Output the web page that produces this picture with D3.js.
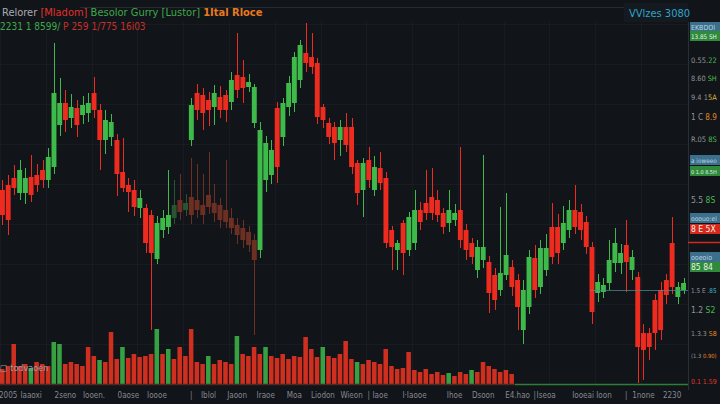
<!DOCTYPE html>
<html>
<head>
<meta charset="utf-8">
<script src="https://cdn.jsdelivr.net/npm/d3@7"></script>
<style>
  html, body { margin: 0; padding: 0; background: #111419; }
  svg { display: block; }
  text { font-family: "Liberation Sans Narrow", "DejaVu Sans Condensed", Roboto, sans-serif; }
</style>
</head>
<body>
<div id="chart"></div>
<script>
// candle values, one slot per trading period (null = no candle)
var opens = [197,199.5,203,195.5,195.5,203.5,204.5,207,202,208.5,229.5,240.5,233,238,234.5,235.5,245.5,237,222,223.5,
  222,206,199.5,197,188,188,184.5,162.5,177,178.5,null,null,null,222,245.5,244.5,242,238.5,243.5,244.5,
  241,254.5,253.5,248.5,230.5,167,202,204.5,238,223.5,238.5,240.5,252,265.5,263.5,260.5,238.5,230.5,228.5,222,
  228.5,228.5,210.5,197,212,197,208,203,177,167,180.5,167,170.5,187,190.5,193.5,192,185.5,180.5,182,
  187,177,170.5,157,162,161,154.5,147,154.5,158.5,152,127,138.5,163,148.5,157,178.5,178.5,170.5,177,
  187,186,181,168.5,145.5,146,150.5,160.5,160.5,169.5,157,153.5,125.5,125.5,142,147,152,170.5,143.5,147];
var highs = [202,204.5,209.5,212,208,214.5,210,212,218,270.5,253,247,245,242,244,245.5,253.5,240,237,235,
  225,223,203,202,197,190,187,184,187,207,null,null,null,243,250,248,246,249.5,249,247,
  256,275.5,262,255,250,231,224,222,241,243,254,266,272,280.5,275.5,263,240,233,231,232,
  235.5,233,212,213,218.5,214,216,206,179,172,182,186,197,191,207,208,197,188,197,190,
  218.5,180,173,172,214.5,164,158,188.5,195.5,162,155,152,167,169.5,172,175,190.5,185,189,192,
  199.5,190,184,171,155,153,172,178,170,182,167,156,130,128,145,151,155,183.5,151,153];
var lows = [179.5,174.5,194.5,192,190,191,196,198,198,205,224,226,228,223.5,230,231,233,207,215,219,
  194,196,186,184,183,165.5,127,160,173,175,null,null,null,219,232,227,229,229.5,233,231,
  237,243,240.5,246,228,163,196,200,200.5,219,234,236,248,256,255,230,228,220,212,214,
  216,205,189.5,183.5,198,194,197,168,157,157,154.5,164,167,177,182,182,181,175,176,179,
  168,162,160,153,158,135.5,137,144,152,144,127,120,135,143,145,154,160,160,167,173,
  175,172,165,130,141,143,147,156,155,146,152,100.5,102,112,117,122,140,145,140,145];
var closes = [184.5,182,198,207,203,194.5,199.5,202,213.5,245.5,240.5,232,238.5,229.5,239.5,240.5,237,222,232,231,
  205,198,196,188.5,193,170.5,165.5,180.5,183,184.5,null,null,null,239.5,237,235.5,237,245.5,237,237,
  252,247,248,251,248.5,227,220.5,217,208.5,240.5,250.5,263.5,269.5,260.5,258.5,233.5,232,223.5,220.5,228.5,
  219.5,208.5,195.5,210.5,202,208.5,200.5,170.5,168.5,170.5,165.5,183.5,187,181,185.5,185.5,184.5,178.5,187,185.5,
  172,167,163.5,168.5,168.5,145.5,142,155.5,164.5,148.5,138.5,147,163.5,147,168,168,163.5,165.5,180.5,187,
  178.5,177,168.5,136,151,149.5,162,170.5,165.5,161,163.5,118.5,117,118.5,125.5,127,144.5,148.5,148.5,150.5];

// faded second series behind the main one
var ghostSlots = [30,31,32,33,34,35,36,37,38,39,40,41,42,43,44];
var ghostOpens = [183,192,187,193.5,192,189.5,194.5,190.5,189.5,187,183,179.5,178,176,172];
var ghostHighs = [202,205,195,213,210,205,216,200,193,212,188,183,182,179,175];
var ghostLows = [180,182,184,180,183,180,185,181,178,178,175,170,168,166,124.5];
var ghostCloses = [189.5,186,190.5,184.5,187,184.5,188.5,185.5,182,181,178,174.5,172,169.5,162];

// volume per slot (first 90 slots), 1 = buy bar
var volumes = [15,18,40,18,20,16,22,20,18,42,40,20,22,20,18,37,28,24,22,52,
  25,37,26,30,27,28,30,55,30,35,25,37,28,55,22,20,28,20,24,22,
  20,48,30,28,37,30,37,28,26,30,25,28,27,47,35,27,37,28,26,30,
  43,25,22,20,24,22,20,35,18,15,16,32,14,12,15,10,12,9,11,8,
  12,10,14,12,22,18,15,12,14,10];
var volUp = [0,0,0,0,0,1,0,0,0,1,1,0,0,0,0,0,0,1,0,0,
  0,1,0,0,0,0,0,1,0,1,0,0,0,0,0,0,1,0,0,0,
  0,1,0,0,0,0,1,0,0,0,0,0,0,0,0,0,1,0,0,0,
  0,0,1,0,0,0,0,0,0,0,0,0,0,0,0,0,0,0,1,0,
  0,0,1,0,0,0,0,0,0,0];

// right price scale labels
var axisPrices = [278.5,274,262,253,243.5,233.5,222.5,212,206.5,192,183,177.5,163.5,158.5,147,137,125.5,114.5,101.5];
var axisKinds = ["info","up","text","text","text","text","text","info","up","text","info","down","info","up","text","text","text","text","text"];
var axisHead = ["EKBDOI","13.85 SH","0.55.","8.60 ","9.4 1","1 C ","R.05 ","a ioweeo","0 1.0 8.5H","5.5 ","ooouo:ei","8 E 5X","ooeoio","85 84","1.5 E ",
  "1.2 ","1.3.3 ","(1.3 ",""];
var axisTail = ["","","22","SH","5A","8.9","8S","","","8S","","","","",".85","S2","S8","0.90)","0.1 1.59"];
var axisTone = ["","","g","g","y","o","g","","","g","","","","","c","g","o","o","r"];

// bottom time labels
var timeSlots = [1,5,11,16,22,27,33,36,41,46,51,56,61,64,66,72,79,84,90,93,95,103,109,112,117];
var timeLabels = ["2005","Iaaoxi","2seno","Iooen.","0aose","Ioooe","|","Iblol","Jaoon","Iraoe","Moa","Liodon","Wieon","|",
  "Iaoe","I·Iaooe","Ihoe","Dsoon","E4.hao","|","Iseoa","Iooeai Ioon","|","1none","2230"];

var width = 720, height = 404;
var plotRight = 688;

var svg = d3.select("#chart").append("svg")
  .attr("width", width)
  .attr("height", height);

svg.append("rect").attr("width", width).attr("height", height).attr("fill", "#111419");

var x = d3.scaleBand().domain(d3.range(opens.length)).range([0, 686]).paddingInner(0.14);
var y = d3.scaleLinear().domain([100, 287]).range([384, 10]);
var yVol = d3.scaleLinear().domain([0, 60]).range([384, 324]);
var cx = function(i) { return x(i) + x.bandwidth() / 2; };

// faint grid
var grid = svg.append("g").attr("stroke", "#181c22").attr("stroke-width", 1);
grid.selectAll("line.v")
  .data(d3.range(0, opens.length, 8))
  .enter().append("line")
  .attr("x1", function(d) { return Math.round(x(d)) + 0.5; })
  .attr("x2", function(d) { return Math.round(x(d)) + 0.5; })
  .attr("y1", 22).attr("y2", 384);
grid.selectAll("line.h")
  .data(y.ticks(9))
  .enter().append("line")
  .attr("x1", 0).attr("x2", plotRight)
  .attr("y1", function(d) { return Math.round(y(d)) + 0.5; })
  .attr("y2", function(d) { return Math.round(y(d)) + 0.5; });

// top rule
svg.append("line").attr("x1", 80).attr("x2", 626).attr("y1", 7.5).attr("y2", 7.5)
  .attr("stroke", "#262a31");

// volume bars
svg.append("g").selectAll("rect")
  .data(volumes)
  .enter().append("rect")
  .attr("x", function(d, i) { return x(i); })
  .attr("y", function(d) { return yVol(d); })
  .attr("width", x.bandwidth() * 0.92)
  .attr("height", function(d) { return 384 - yVol(d); })
  .attr("fill", function(d, i) { return volUp[i] ? "#3aae45" : "#e0321f"; })
  .attr("opacity", 0.92);

// volume baseline
svg.append("line").attr("x1", 0).attr("x2", 515).attr("y1", 384.5).attr("y2", 384.5)
  .attr("stroke", "#4a2a22").attr("stroke-width", 1.5);
svg.append("line").attr("x1", 515).attr("x2", plotRight).attr("y1", 384.5).attr("y2", 384.5)
  .attr("stroke", "#2f7e38").attr("stroke-width", 1.5);

function drawCandles(rows, upColor, downColor, opacity) {
  var g = svg.append("g").attr("opacity", opacity);
  var c = g.selectAll("g").data(rows).enter().append("g");
  c.append("line")
    .attr("x1", function(d) { return Math.round(cx(d.i)) + 0.5; })
    .attr("x2", function(d) { return Math.round(cx(d.i)) + 0.5; })
    .attr("y1", function(d) { return y(d.h); })
    .attr("y2", function(d) { return y(d.l); })
    .attr("stroke", function(d) { return d.c >= d.o ? upColor : downColor; })
    .attr("stroke-width", 1);
  c.append("rect")
    .attr("x", function(d) { return x(d.i); })
    .attr("y", function(d) { return y(Math.max(d.o, d.c)); })
    .attr("width", x.bandwidth())
    .attr("height", function(d) { return Math.max(1.5, Math.abs(y(d.o) - y(d.c))); })
    .attr("fill", function(d) { return d.c >= d.o ? upColor : downColor; });
}

var ghostRows = ghostSlots.map(function(s, k) {
  return { i: s, o: ghostOpens[k], h: ghostHighs[k], l: ghostLows[k], c: ghostCloses[k] };
});
drawCandles(ghostRows, "#3f9446", "#c84a2c", 0.5);

var rows = d3.range(opens.length).map(function(i) {
  return { i: i, o: opens[i], h: highs[i], l: lows[i], c: closes[i] };
}).filter(function(d) { return d.o != null; });
drawCandles(rows, "#3dba4a", "#ee2b1f", 1);

// last price line
svg.append("line").attr("x1", 590).attr("x2", plotRight)
  .attr("y1", Math.round(y(147)) + 0.5).attr("y2", Math.round(y(147)) + 0.5)
  .attr("stroke", "#4f8f9c").attr("stroke-width", 1).attr("opacity", 0.7);

// right axis
svg.append("rect").attr("x", plotRight).attr("y", 0).attr("width", width - plotRight).attr("height", height)
  .attr("fill", "#111419");
svg.append("line").attr("x1", plotRight + 0.5).attr("x2", plotRight + 0.5).attr("y1", 22).attr("y2", 390)
  .attr("stroke", "#2a2f36");
svg.append("line").attr("x1", plotRight).attr("x2", width)
  .attr("y1", Math.round(y(171)) + 0.5).attr("y2", Math.round(y(171)) + 0.5)
  .attr("stroke", "#d42a20").attr("stroke-width", 1.5);

var boxFill = { info: "#3b6f8c", up: "#2f8a3c", down: "#d8281e" };
var toneFill = { g: "#48b84f", y: "#d6b331", o: "#e2862a", c: "#3fb2c8", r: "#e0352a" };

var ax = svg.append("g");
var maxLabel = width - plotRight - 6;
axisPrices.forEach(function(p, k) {
  var yy = y(p);
  var kind = axisKinds[k];
  if (kind !== "text") {
    ax.append("rect").attr("x", plotRight + 2).attr("y", yy - 5).attr("width", width - plotRight - 2).attr("height", 10)
      .attr("fill", boxFill[kind]);
  }
  var fs = kind === "info" ? 7 : 8.5;
  var t = ax.append("text").attr("x", plotRight + 3).attr("y", yy + 3)
    .attr("font-size", fs);
  t.append("tspan").text(axisHead[k])
    .attr("fill", kind === "text" ? "#8f959c" : (kind === "info" ? "#b8d3e2" : "#e8f5e8"));
  if (axisTail[k]) {
    t.append("tspan").text(axisTail[k]).attr("fill", toneFill[axisTone[k]]);
  }
  // shrink labels that would run past the right edge
  var w = t.node().getComputedTextLength();
  if (w > maxLabel) {
    t.attr("font-size", Math.floor(fs * maxLabel / w * 10) / 10);
  }
});

// time labels
svg.append("g").selectAll("text")
  .data(timeLabels)
  .enter().append("text")
  .attr("x", function(d, k) { return cx(timeSlots[k]); })
  .attr("y", 398)
  .attr("text-anchor", "middle")
  .attr("font-size", 8)
  .attr("fill", "#858a91")
  .text(function(d) { return d; });

// volume pane label
svg.append("text").attr("x", 0).attr("y", 371).attr("font-size", 9).attr("fill", "#9aa0a6")
  .text("▢ todvaoen");

// header
var head = svg.append("text").attr("x", 2).attr("y", 16).attr("font-size", 11);
head.append("tspan").text("Relorer ").attr("fill", "#a9acb2");
head.append("tspan").text("[Mladom] ").attr("fill", "#e0312a");
head.append("tspan").text("Besolor Gurry ").attr("fill", "#3fa84b");
head.append("tspan").text("[Lustor] ").attr("fill", "#3fa84b");
head.append("tspan").text("1Ital Rloce").attr("fill", "#e8791f").attr("font-weight", "bold");

var head2 = svg.append("text").attr("x", 0).attr("y", 30).attr("font-size", 10);
head2.append("tspan").text("2231 1 8599/ ").attr("fill", "#3fa84b");
head2.append("tspan").text("P 259 1/775 16i03").attr("fill", "#c8302a");

svg.append("rect").attr("x", 624).attr("y", 3).attr("width", 64).attr("height", 19).attr("fill", "#151920");
svg.append("text").attr("x", 629).attr("y", 17).attr("font-size", 11).attr("fill", "#2fa5c9")
  .text("VVlzes 3080");
</script>
</body>
</html>
